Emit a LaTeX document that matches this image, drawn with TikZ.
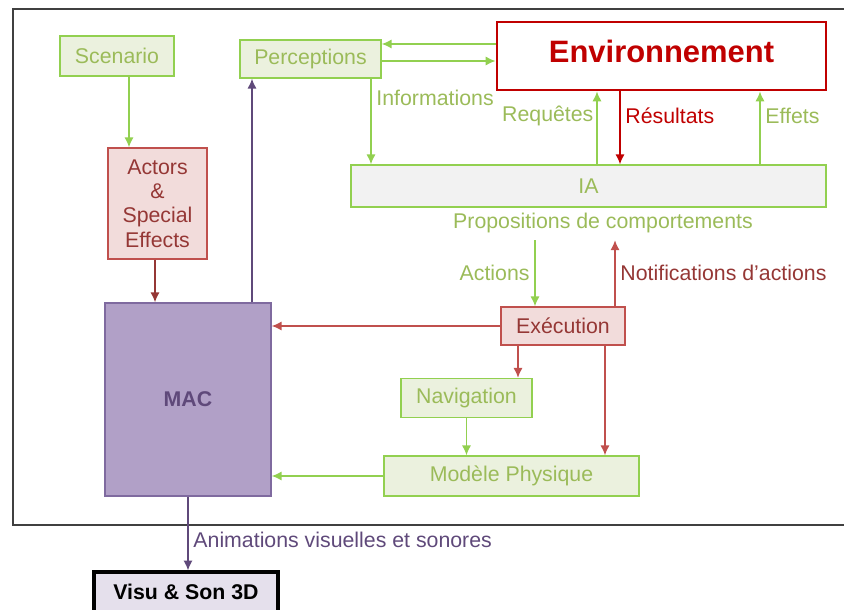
\documentclass[tikz,border=0pt]{standalone}
\usepackage{fontspec}
\setmainfont{Liberation Sans}
\usepackage{xcolor}
\usetikzlibrary{arrows.meta}
\definecolor{g1}{HTML}{92D050}
\definecolor{g2}{HTML}{EBF1DE}
\definecolor{g3}{HTML}{9BBB59}
\definecolor{ia1}{HTML}{F2F2F2}
\definecolor{r1}{HTML}{C0504D}
\definecolor{r2}{HTML}{F2DCDB}
\definecolor{r3}{HTML}{953735}
\definecolor{e1}{HTML}{C00000}
\definecolor{p1}{HTML}{B1A0C7}
\definecolor{p2}{HTML}{7F6A9F}
\definecolor{p3}{HTML}{5F497A}
\definecolor{v1}{HTML}{E5E0EC}
\definecolor{f1}{HTML}{404040}

\tikzset{
	gbox/.style={draw=g1, fill=g2, text=g3, line width=1pt},
	rbox/.style={draw=r1, fill=r2, text=r3, line width=1pt},
	tip/.style={-{Latex[length=7pt,width=6.5pt]}, line width=1.1pt},
	garrow/.style={tip, g1},
	rarrow/.style={tip, r1},
	earrow/.style={tip, e1},
	darrow/.style={tip, r3},
	parrow/.style={tip, p3},
	glabel/.style={text=g3},
	rlabel/.style={text=r3},
	plabel/.style={text=p3}
}

\begin{document}
\begin{tikzpicture}[x=0.025cm,y=-0.025cm,font=\fontsize{15.15}{18.2}\selectfont]
	\clip (0,0) rectangle (844,610);
	\begin{scope}
	\draw [f1, line width=1.1pt] (13,9) rectangle (880,525);
	\node [gbox, minimum width=2.85cm, minimum height=1cm] (scenario) at (117,56) {Scenario};
	\node [gbox, minimum width=3.525cm, minimum height=0.95cm] (percep) at (310.5,59) {Perceptions};
	\node [draw=e1, line width=2pt, fill=white, text=e1, minimum width=8.225cm, minimum height=1.7cm, text depth=0.25cm, font=\fontsize{22}{26}\selectfont\bfseries] (env) at (661.5,56) {Environnement};
	\node [draw=g1, fill=ia1, text=g3, line width=1pt, minimum width=11.875cm, minimum height=1.05cm] (ia) at (588.5,186) {IA};
	\node [glabel, inner sep=5pt] (propos) at (603,223) {Propositions de comportements};
	\node [rbox, minimum width=3.1cm, minimum height=0.95cm] (exec) at (563,326) {Exécution};
	\node [rbox, minimum width=2.475cm, minimum height=2.775cm, align=center, font=\fontsize{15.15}{17.4}\selectfont] (actors) at (157.5,203.5) {Actors\\\&\\Special\\Effects};
	\node [draw=p2, fill=p1, text=p3, line width=1pt, minimum width=4.15cm, minimum height=4.825cm, font=\fontsize{15.15}{18.2}\selectfont\bfseries] (mac) at (188,399.5) {MAC};
	\node [gbox, minimum width=3.275cm, minimum height=0.975cm] (nav) at (466.5,398) {Navigation};
	\node [gbox, minimum width=6.375cm, minimum height=1cm] (modele) at (511.5,476) {Modèle Physique};
	\node [draw=black, line width=2.2pt, fill=v1, minimum width=4.6cm, minimum height=1cm, font=\fontsize{15.15}{18.2}\selectfont\bfseries] (visu) at (186,592) {Visu \& Son 3D};

	\draw [garrow] (env.west |- 0,44) -- (percep.east |- 0,44);
	\draw [garrow] (percep.east |- 0,61) -- (env.west |- 0,61);
	\draw [garrow] (percep.south -| 371,0) -- (ia.north -| 371,0) node[pos=0.22,right,glabel]{Informations};
	\draw [garrow] (ia.north -| 597,0) -- (env.south -| 597,0) node[pos=0.67,left,glabel,inner sep=2pt]{Requêtes};
	\draw [earrow] (env.south -| 620,0) -- (ia.north -| 620,0) node[pos=0.33,right,text=e1]{Résultats};
	\draw [garrow] (ia.north -| 760,0) -- (env.south -| 760,0) node[pos=0.67,right,glabel]{Effets};
	\draw [garrow] (propos.south -| 535,0) -- (exec.north -| 535,0) node[midway,left,glabel]{Actions};
	\draw [rarrow] (exec.north -| 615,0) -- (propos.south -| 615,0) node[midway,right,rlabel]{Notifications d'actions};
	\draw [rarrow] (exec.west) -- (mac.east |- exec.west);
	\draw [parrow] (mac.north -| 252,0) -- (percep.south -| 252,0);
	\draw [garrow] (scenario.south -| 129,0) -- (actors.north -| 129,0);
	\draw [darrow] (actors.south -| 155,0) -- (mac.north -| 155,0);
	\draw [rarrow] (exec.south -| 518,0) -- (nav.north -| 518,0);
	\draw [garrow] (nav.south) -- (modele.north -| nav.south);
	\draw [rarrow] (exec.south -| 605,0) -- (modele.north -| 605,0);
	\draw [garrow] (modele.west) -- (mac.east |- modele.west);
	\draw [parrow] (mac.south) -- (visu.north -| mac.south) node[pos=0.58,right,plabel]{Animations visuelles et sonores};
	\end{scope}
\end{tikzpicture}
\end{document}
